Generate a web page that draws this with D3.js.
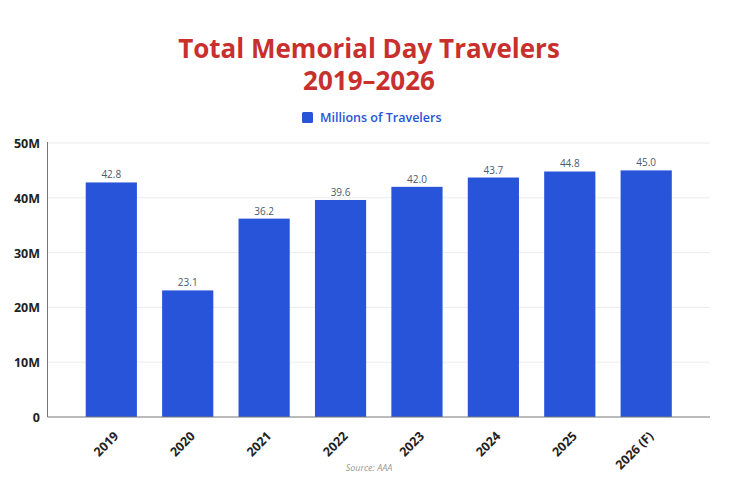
<!DOCTYPE html>
<html>
<head>
<meta charset="utf-8">
<script src="https://cdn.jsdelivr.net/npm/d3@7"></script>
<style>
  body { margin: 0; background: #fff; }
  text { font-family: "Open Sans", Lato, sans-serif; }
</style>
</head>
<body>
<script>
const years = ["2019", "2020", "2021", "2022", "2023", "2024", "2025", "2026 (F)"];
const travelers = [42.8, 23.1, 36.2, 39.6, 42.0, 43.7, 44.8, 45.0];
const yTicks = [0, 10, 20, 30, 40, 50];

const w = 738, h = 500;
const plotLeft = 47.5, plotRight = 710, plotTop = 143, plotBottom = 417;
const blue = "#2754d8";

const svg = d3.select("body").append("svg").attr("width", w).attr("height", h);

const x = d3.scaleBand().domain(years).range([plotLeft, plotRight])
    .paddingInner(0.33).paddingOuter(0.5);
const y = d3.scaleLinear().domain([0, 50]).range([plotBottom, plotTop]);

// Title
svg.append("text").attr("x", w / 2).attr("y", 58).attr("text-anchor", "middle")
    .style("font-size", "26px").style("font-weight", "bold").style("fill", "#c8302e")
    .text("Total Memorial Day Travelers");
svg.append("text").attr("x", w / 2).attr("y", 90).attr("text-anchor", "middle")
    .style("font-size", "26px").style("font-weight", "bold").style("fill", "#c8302e")
    .text("2019–2026");

// Legend
svg.append("rect").attr("x", 302).attr("y", 112).attr("width", 11).attr("height", 11)
    .attr("rx", 1.5).style("fill", blue);
svg.append("text").attr("x", 320).attr("y", 122)
    .style("font-size", "12.5px").style("font-weight", "600").style("fill", blue)
    .text("Millions of Travelers");

// Grid
svg.append("g").selectAll("line").data(yTicks.slice(1)).enter().append("line")
    .attr("x1", plotLeft).attr("x2", plotRight)
    .attr("y1", d => y(d)).attr("y2", d => y(d))
    .style("stroke", "#ececec");

// Y labels
svg.append("g").selectAll("text").data(yTicks).enter().append("text")
    .attr("x", 40).attr("y", d => y(d) + 5).attr("text-anchor", "end")
    .style("font-size", "12.5px").style("font-weight", "bold").style("fill", "#222")
    .text(d => d === 0 ? "0" : d + "M");

// Bars
svg.append("g").selectAll("rect").data(travelers).enter().append("rect")
    .attr("x", (d, i) => x(years[i]))
    .attr("width", x.bandwidth())
    .attr("y", d => y(d))
    .attr("height", d => plotBottom - y(d))
    .style("fill", blue);

// Value labels
svg.append("g").selectAll("text").data(travelers).enter().append("text")
    .attr("x", (d, i) => x(years[i]) + x.bandwidth() / 2)
    .attr("y", d => y(d) - 4).attr("text-anchor", "middle")
    .style("font-size", "10px").style("fill", "#4a5a70")
    .text(d => d.toFixed(1));

// Axis lines
svg.append("line").attr("x1", plotLeft).attr("x2", plotLeft).attr("y1", plotTop - 1).attr("y2", plotBottom)
    .style("stroke", "#777");
svg.append("line").attr("x1", plotLeft).attr("x2", plotRight).attr("y1", plotBottom).attr("y2", plotBottom)
    .style("stroke", "#777");

// X labels
svg.append("g").selectAll("text").data(years).enter().append("text")
    .attr("transform", d => `translate(${x(d) + x.bandwidth() / 2 + 8},${plotBottom + 20}) rotate(-45)`)
    .attr("text-anchor", "end")
    .style("font-size", "12.5px").style("font-weight", "bold").style("fill", "#222")
    .text(d => d);

// Source
svg.append("text").attr("x", 369).attr("y", 471).attr("text-anchor", "middle")
    .style("font-size", "9px").style("font-style", "italic").style("fill", "#999")
    .text("Source: AAA");
</script>
</body>
</html>
